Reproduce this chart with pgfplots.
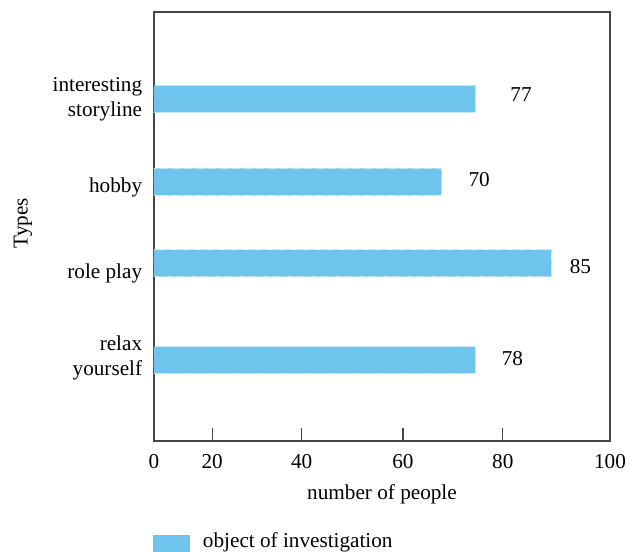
\documentclass[border=0pt]{standalone}
\usepackage{pgfplots}
\pgfplotsset{compat=1.18}
\usepackage{fontspec}
\setmainfont{Liberation Serif}
\definecolor{barblue}{RGB}{110,196,236}
\definecolor{edgeblue}{RGB}{196,231,248}
\definecolor{axisgray}{RGB}{70,70,70}
\begin{document}
\fontsize{10.6}{12.5}\selectfont
\begin{tikzpicture}[font=\fontsize{10.6}{12.5}\selectfont]
\begin{axis}[
  scale only axis, width=228pt, height=214.5pt,
  xmin=0, xmax=100, ymin=0, ymax=5,
  axis line style={axisgray, line width=0.6pt},
  xtick={0,12.77,32.4,54.6,76.5,100},
  xticklabels={0,20,40,60,80,100},
  xtick pos=bottom, tick align=inside,
  major tick length=6.5pt,
  xtick style={axisgray, line width=0.6pt},
  ytick={3.98,2.96,1.95,0.963},
  yticklabels={interesting\\storyline, hobby, role play, relax\\yourself},
  yticklabel style={align=right, xshift=-2.2pt},
  ytick style={draw=none},
  xticklabel style={yshift=-2.8pt},
  /pgf/number format/assume math mode=true,
  xlabel={number of people}, ylabel={Types},
  every axis x label/.style={at={(rel axis cs:0.5,0)}, anchor=center, yshift=-26.5pt},
  every axis y label/.style={at={(rel axis cs:0,0.508)}, rotate=90, anchor=center, yshift=65.5pt},
  legend style={at={(rel axis cs:0,0)}, anchor=north west, yshift=-46pt, xshift=-0.5pt,
    draw=none, fill=none, inner sep=0pt, outer sep=0pt, nodes={inner sep=0pt},
    column sep=6.5pt},
  legend image code/.code={\fill[barblue, draw=none] (0pt,-5.4pt) rectangle (18.5pt,3.3pt);},
]
\addplot[xbar, bar width=13.35pt, bar shift=0pt, fill=barblue, draw=edgeblue,
  dash pattern=on 3.5pt off 2.5pt, line width=0.5pt]
  coordinates {(70.5,3.986) (63.1,3.022) (87.1,2.071) (70.5,0.944)};
\addlegendentry{object of investigation}
\addplot[draw=none, mark=none, forget plot, nodes near coords, point meta=explicit symbolic,
  every node near coord/.style={anchor=center, text=black}]
  coordinates {(80.5,4.033)[77] (71.3,3.042)[70] (93.5,2.028)[85] (78.6,0.956)[78]};
\end{axis}
\pgfresetboundingbox
\path[use as bounding box] ([shift={(-77pt,-55.5pt)}]current axis.south west)
  rectangle ([shift={(242.5pt,220.5pt)}]current axis.south west);
\end{tikzpicture}
\end{document}
